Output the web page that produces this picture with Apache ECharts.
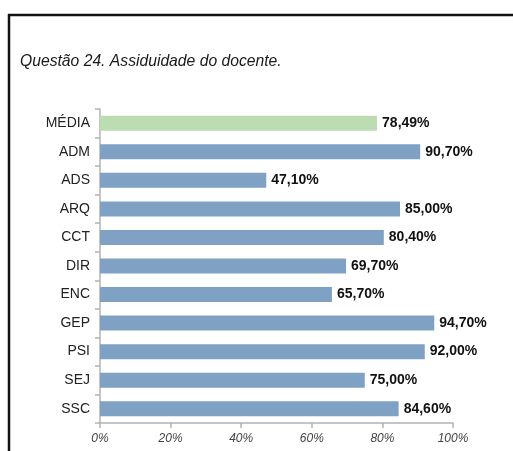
<!DOCTYPE html>
<html>
<head>
<meta charset="utf-8">
<script src="https://cdn.jsdelivr.net/npm/echarts@6/dist/echarts.min.js"></script>
<style>
  html, body { margin: 0; padding: 0; background: #fff; }
  #chart { width: 513px; height: 451px; }
</style>
</head>
<body>
<div id="chart"></div>
<script>
// cursos e percentuais de assiduidade
const cursos = ['MÉDIA', 'ADM', 'ADS', 'ARQ', 'CCT', 'DIR', 'ENC', 'GEP', 'PSI', 'SEJ', 'SSC']
const valores = [78.49, 90.70, 47.10, 85.00, 80.40, 69.70, 65.70, 94.70, 92.00, 75.00, 84.60]
const xTicks = [0, 20, 40, 60, 80, 100]

const azul = '#7ea1c4'
const verde = '#bcdcb1'

const fmt = (v) => v.toFixed(2).replace('.', ',') + '%'

const myChart = echarts.init(document.getElementById('chart'))

myChart.setOption({
    animation: false,
    backgroundColor: '#fff',
    title: {
        text: 'Questão 24. Assiduidade do docente.',
        left: 15,
        top: 49,
        textStyle: {
            fontFamily: 'Liberation Sans',
            fontStyle: 'italic',
            fontWeight: 'normal',
            fontSize: 15.7,
            color: '#1a1a1a'
        }
    },
    // moldura (só topo e lateral esquerda aparecem)
    graphic: [
        { type: 'line', shape: { x1: 8, y1: 15, x2: 513, y2: 15 }, style: { stroke: '#111', lineWidth: 2.5 } },
        { type: 'line', shape: { x1: 9, y1: 14, x2: 9, y2: 451 }, style: { stroke: '#111', lineWidth: 2.5 } }
    ],
    grid: { left: 100, right: 60, top: 109, bottom: 28, containLabel: false },
    xAxis: {
        type: 'value',
        min: xTicks[0],
        max: xTicks[xTicks.length - 1],
        interval: 20,
        splitLine: { show: false },
        axisLine: { show: true, lineStyle: { color: '#b3b3b3', width: 1.5 } },
        axisTick: { show: true, length: 5, lineStyle: { color: '#b3b3b3', width: 1.5 } },
        axisLabel: {
            formatter: '{value}%',
            margin: 10,
            fontFamily: 'Liberation Sans',
            fontStyle: 'italic',
            fontSize: 12,
            color: '#444'
        }
    },
    yAxis: {
        type: 'category',
        data: cursos,
        inverse: true,
        axisLine: { show: true, lineStyle: { color: '#b3b3b3', width: 1.5 } },
        axisTick: { show: true, length: 5, lineStyle: { color: '#b3b3b3', width: 1.5 } },
        axisLabel: {
            margin: 10,
            fontFamily: 'Liberation Sans',
            fontSize: 14,
            color: '#222'
        }
    },
    series: [{
        type: 'bar',
        data: valores.map((v, i) => ({
            value: v,
            itemStyle: { color: i === 0 ? verde : azul }
        })),
        barWidth: 15,
        label: {
            show: true,
            position: 'right',
            distance: 5,
            formatter: (p) => fmt(p.value),
            fontFamily: 'Liberation Sans',
            fontWeight: 'bold',
            fontSize: 14,
            color: '#111'
        }
    }]
})
</script>
</body>
</html>
